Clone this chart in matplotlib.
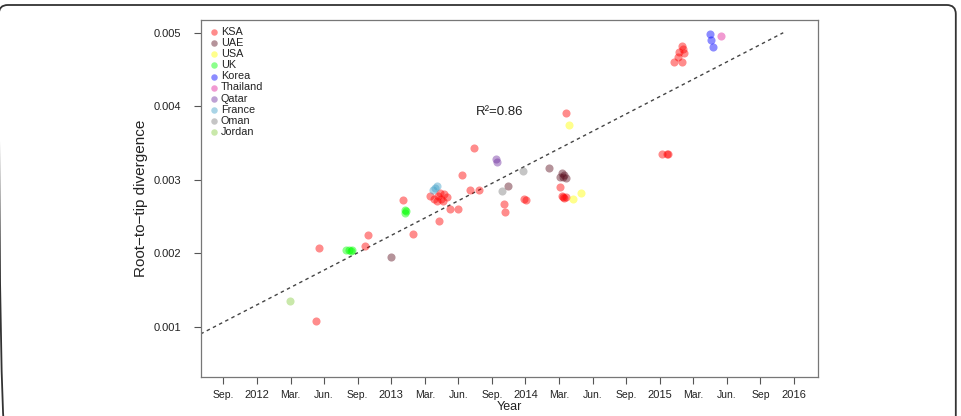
import numpy as np
import matplotlib
matplotlib.use("Agg")
import matplotlib.pyplot as plt
from matplotlib.patches import FancyBboxPatch

plt.rcParams['font.family'] = ['Liberation Sans', 'DejaVu Sans']

# ---- data (decimal year, root-to-tip divergence) ----
countries = ['KSA', 'UAE', 'USA', 'UK', 'Korea', 'Thailand', 'Qatar', 'France', 'Oman', 'Jordan']
colors = ['#FF0000', '#5C1020', '#FFFF00', '#00FF00', '#0000FF',
          '#E0209A', '#7030A0', '#40A0C8', '#808080', '#88CC44']

ksa_x = [2012.460, 2012.442, 2012.825, 2012.804, 2013.090, 2013.160, 2013.358, 2013.438,
         2013.497, 2013.587, 2013.651, 2013.527, 2013.616, 2013.289, 2013.318, 2013.348,
         2013.371, 2013.393, 2013.415, 2013.341, 2013.385, 2013.363, 2013.840, 2013.845,
         2013.990, 2014.002, 2014.302, 2014.259, 2014.280, 2014.290, 2014.270, 2014.300,
         2015.014, 2015.064, 2015.052, 2015.163, 2015.171, 2015.183, 2015.138, 2015.108,
         2015.163, 2015.143]
ksa_y = [0.002071, 0.001086, 0.002252, 0.002106, 0.002728, 0.002261, 0.002446, 0.002601,
         0.002601, 0.002864, 0.002864, 0.003068, 0.003435, 0.002782, 0.002741, 0.002782,
         0.002741, 0.002809, 0.002769, 0.002714, 0.002714, 0.002823, 0.002669, 0.002561,
         0.002735, 0.002720, 0.003911, 0.002909, 0.002765, 0.002750, 0.002780, 0.002772,
         0.003354, 0.003354, 0.003354, 0.004814, 0.004782, 0.004724, 0.004677, 0.004609,
         0.004609, 0.004741]
uae_x = [2012.998, 2013.872, 2014.175, 2014.270, 2014.277, 2014.299, 2014.257, 2014.287]
uae_y = [0.001952, 0.002918, 0.003159, 0.003091, 0.003037, 0.003023, 0.003037, 0.003068]
usa_x = [2014.324, 2014.356, 2014.413]
usa_y = [0.003748, 0.002746, 0.002819]
uk_x = [2013.100, 2013.112, 2013.106, 2012.665, 2012.687, 2012.709, 2012.702]
uk_y = [0.002555, 0.002582, 0.002596, 0.002048, 0.002048, 0.002048, 0.002035]
korea_x = [2015.374, 2015.382, 2015.399]
korea_y = [0.004982, 0.004905, 0.004805]
thailand_x = [2015.456]
thailand_y = [0.004950]
qatar_x = [2013.778, 2013.790]
qatar_y = [0.003282, 0.003249]
france_x = [2013.339, 2013.309, 2013.324]
france_y = [0.002918, 0.002864, 0.002891]
oman_x = [2013.984, 2013.823]
oman_y = [0.003127, 0.002854]
jordan_x = [2012.244]
jordan_y = [0.001354]

fit_x = [2011.58, 2015.92]
fit_y = [0.000905, 0.005]
r2_label = 'R\u00b2=0.86'

tick_pos = [2011.75, 2012, 2012.25, 2012.5, 2012.75, 2013, 2013.25, 2013.5, 2013.75,
            2014, 2014.25, 2014.5, 2014.75, 2015, 2015.25, 2015.5, 2015.75, 2016]
tick_labels = ['Sep.', '2012', 'Mar.', 'Jun.', 'Sep.', '2013', 'Mar.', 'Jun.', 'Sep.',
               '2014', 'Mar.', 'Jun.', 'Sep.', '2015', 'Mar.', 'Jun.', 'Sep', '2016']
ytick_pos = [0.001, 0.002, 0.003, 0.004, 0.005]

series = [(ksa_x, ksa_y), (uae_x, uae_y), (usa_x, usa_y), (uk_x, uk_y), (korea_x, korea_y),
          (thailand_x, thailand_y), (qatar_x, qatar_y), (france_x, france_y),
          (oman_x, oman_y), (jordan_x, jordan_y)]

W, H = 961, 416
fig = plt.figure(figsize=(W / 100, H / 100), dpi=100)
ax = fig.add_axes([200.7 / W, 1 - 377 / H, (818 - 200.7) / W, (377 - 19.5) / H])

# figure frame with rounded corners (cut at bottom / left)
r = 9
frame = FancyBboxPatch((-1.2 / W, -40 / H), 957 / W, (H + 40 - 5) / H,
                       boxstyle="round,pad=0,rounding_size=%f" % (r / W),
                       transform=fig.transFigure, fill=False, edgecolor='#333333', lw=1.3,
                       mutation_aspect=W / H, clip_on=False)
fig.patches.append(frame)

for (xs, ys), name, col in zip(series, countries, colors):
    ax.scatter(xs, ys, s=34, color=col, alpha=0.45, linewidths=0, label=name, zorder=3)

ax.plot(fit_x, fit_y, color='#444444', lw=1.0, linestyle=(0, (2.5, 2.5)), zorder=2)
ax.text(2013.81, 0.00392, r2_label, fontsize=9.5, color='#222222', ha='center', va='center')

ax.set_xlim(2011.581, 2016.179)
ax.set_ylim(0.00032, 0.00518)
ax.set_xticks(tick_pos)
ax.set_xticklabels(tick_labels)
for lab in ax.get_xticklabels():
    lab.set_fontsize(8 if lab.get_text().isdigit() else 7.5)
ax.set_yticks(ytick_pos)
ax.set_yticklabels(['%.3f' % v for v in ytick_pos], fontsize=8)
ax.tick_params(axis='x', length=5, width=0.8, color='#555555', pad=4, labelcolor='#222222')
ax.tick_params(axis='y', length=5, width=0.8, color='#555555', pad=9, labelcolor='#222222')
for sp in ax.spines.values():
    sp.set_color('#777777')
    sp.set_linewidth(0.9)

ax.set_xlabel('Year', fontsize=9, color='#222222', labelpad=1)
ax.set_ylabel('Root\u2212to\u2212tip divergence', fontsize=11, color='#222222', labelpad=4)

leg = ax.legend(loc='upper left', frameon=False, fontsize=7.8, handletextpad=0.05,
                labelspacing=0.1, markerscale=0.8, borderaxespad=0.3, handlelength=1.1)
for t in leg.get_texts():
    t.set_color('#222222')

fig.savefig('out.png', dpi=100)
